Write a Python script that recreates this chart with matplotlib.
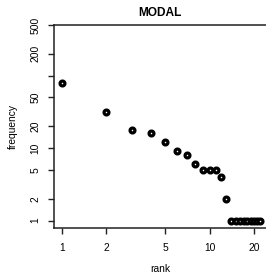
import matplotlib
matplotlib.use("Agg")
import matplotlib.pyplot as plt
from matplotlib.ticker import FixedLocator, FixedFormatter, NullLocator

plt.rcParams['font.family'] = ['Liberation Sans', 'DejaVu Sans']

ranks = list(range(1, 23))
freqs = [79, 32, 18, 16, 12, 9, 8, 6, 5, 5, 5, 4, 2,
         1, 1, 1, 1, 1, 1, 1, 1, 1]
x_ticks = [1, 2, 5, 10, 20]
x_labels = ["1", "2", "5", "10", "20"]
y_ticks = [1, 2, 5, 10, 20, 50, 100, 200, 500]
y_labels = ["1", "2", "5", "10", "20", "50", "", "200", "500"]

fig = plt.figure(figsize=(2.66, 2.75), dpi=100)
ax = fig.add_axes([54/266, 1-228/275, (266-54)/266, (228-25)/275])
ax.plot(ranks, freqs, linestyle='none', marker='o', markersize=3.5,
        markerfacecolor='white', markeredgecolor='black', markeredgewidth=2.3,
        clip_on=False)
ax.set_xscale('log')
ax.set_yscale('log')
ax.set_xlim(0.887, 24.1)
ax.set_ylim(0.79, 500)
ax.xaxis.set_major_locator(FixedLocator(x_ticks))
ax.xaxis.set_major_formatter(FixedFormatter(x_labels))
ax.xaxis.set_minor_locator(NullLocator())
ax.yaxis.set_major_locator(FixedLocator(y_ticks))
ax.yaxis.set_major_formatter(FixedFormatter(y_labels))
ax.yaxis.set_minor_locator(NullLocator())
for lab in ax.get_yticklabels():
    lab.set_rotation(90)
    lab.set_va('center')
ax.tick_params(axis='both', direction='out', length=4.5, width=1.0,
               labelsize=7.4, color='#222222')
ax.tick_params(axis='x', pad=6.5)
ax.tick_params(axis='y', pad=5.5)
for s in ['left', 'bottom', 'top']:
    ax.spines[s].set_linewidth(1.1)
    ax.spines[s].set_color('#222222')
ax.spines['right'].set_visible(False)
ax.set_title("MODAL", fontsize=8.6, fontweight='bold', pad=6.5)
ax.set_xlabel("rank", fontsize=7.4, labelpad=7.5)
ax.set_ylabel("frequency", fontsize=7.4, labelpad=8.5)
fig.savefig("out.png", dpi=100)
